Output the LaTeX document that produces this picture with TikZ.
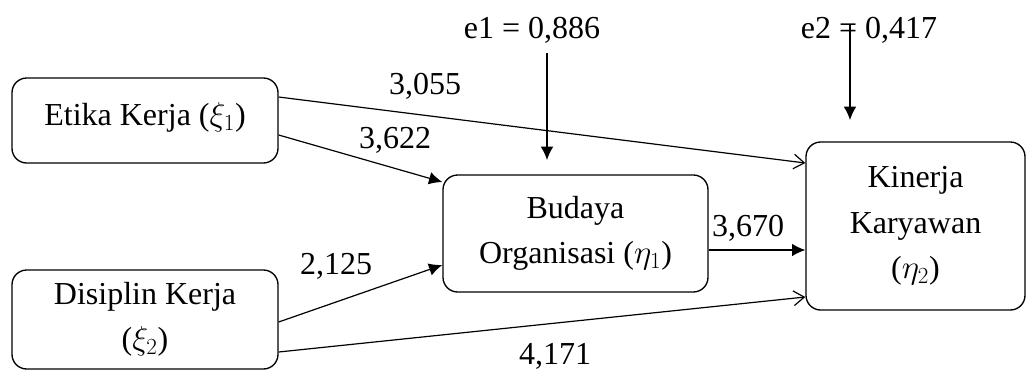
\documentclass[tikz,border=0pt]{standalone}
\usepackage{fontspec}
\setmainfont{Liberation Serif}
\usetikzlibrary{arrows.meta,calc}

\begin{document}
\begin{tikzpicture}[x=0.75pt, y=-0.75pt,
        font=\fontsize{24}{34}\selectfont,
        box/.style={rectangle, draw=black, line width=1pt, rounded corners=11pt, align=center, inner sep=0pt},
        fwd/.style={-{Latex[length=10pt,width=9.5pt]}, line width=0.9pt},
        hollow/.style={-{Straight Barb[length=8pt,width=11pt]}, line width=0.9pt},
        coef/.style={inner sep=0pt}
    ]
        \useasboundingbox (0,0) rectangle (1029,376);

        % Nodes
        \node[box, minimum width=199.5pt, minimum height=63.75pt] (etika) at (145,120.5) {\raisebox{10pt}{Etika Kerja ($\xi_1$)}};
        \node[box, minimum width=199.5pt, minimum height=74.25pt] (disiplin) at (145,319.5) {Disiplin Kerja\\($\xi_2$)};
        \node[box, minimum width=198.75pt, minimum height=87.75pt] (budaya) at (575.5,233.5) {Budaya\\Organisasi ($\eta_1$)};
        \node[box, minimum width=164.25pt, minimum height=126pt] (kinerja) at (915.5,226) {Kinerja\\Karyawan\\($\eta_2$)};
        \node[coef] (e1) at (532,30) {e1 = 0,886};
        \node[coef] (e2) at (869,30) {e2 = 0,417};
        \coordinate (e1tip) at (547,160);
        \coordinate (e2tip) at (850,120);

        % Edges
        \draw[hollow] ($(etika.east)+(0,-23.5)$) -- ($(kinerja.west)+(0,-63)$);
        \draw[fwd] ($(etika.east)+(0,14.5)$) -- ($(budaya.west)+(0,-51.5)$);
        \draw[fwd] ($(disiplin.east)+(0,2.5)$) -- ($(budaya.west)+(0,31.5)$);
        \draw[hollow] ($(disiplin.east)+(0,32.5)$) -- ($(kinerja.west)+(0,71)$);
        \draw[fwd] ($(budaya.east)+(0,16.5)$) -- ($(kinerja.west)+(0,24)$);
        \draw[fwd] ($(e1.south -| e1tip)+(0,10)$) -- (e1tip);
        \draw[fwd] ($(e2.center -| e2tip)+(0,-6)$) -- (e2tip);

        % Coefficients
        \node[coef] (c1) at (425,86) {3,055};
        \node[coef] (c2) at (395,140) {3,622};
        \node[coef] (c3) at (336,266) {2,125};
        \node[coef] (c4) at (555,356) {4,171};
        \node[coef] (c5) at (748,228) {3,670};

    \end{tikzpicture}
\end{document}
